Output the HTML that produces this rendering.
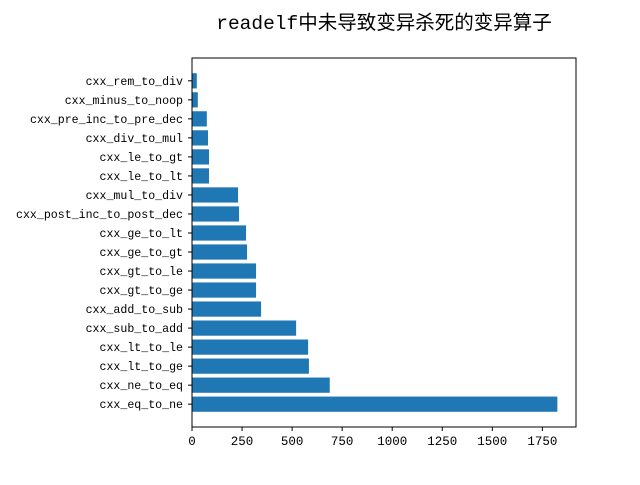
<!DOCTYPE html>
<html><head><meta charset="utf-8">
<style>
body{margin:0;background:#fff;}
svg text{font-family:"Liberation Mono","Noto Sans CJK SC",monospace;}
</style></head>
<body>
<svg id="chart" width="640" height="480" xmlns="http://www.w3.org/2000/svg">
<rect width="640" height="480" fill="#fff"/>
<text x="384" y="29" text-anchor="middle" font-size="19.5" fill="#000">readelf中未导致变异杀死的变异算子</text>
<g id="bars"></g>
<g id="yticks"></g>
<g id="xticks"></g>
<rect x="192" y="58" width="384" height="369" fill="none" stroke="#000" stroke-width="1"/>
</svg>
<script>
const categories = ["cxx_eq_to_ne","cxx_ne_to_eq","cxx_lt_to_ge","cxx_lt_to_le","cxx_sub_to_add","cxx_add_to_sub","cxx_gt_to_ge","cxx_gt_to_le","cxx_ge_to_gt","cxx_ge_to_lt","cxx_post_inc_to_post_dec","cxx_mul_to_div","cxx_le_to_lt","cxx_le_to_gt","cxx_div_to_mul","cxx_pre_inc_to_pre_dec","cxx_minus_to_noop","cxx_rem_to_div"];
const values = [1825,688,584,580,520,345,320,320,275,270,235,230,85,85,80,74,29,24];
const xTicks = [0,250,500,750,1000,1250,1500,1750];
const NS="http://www.w3.org/2000/svg";
const L=192,R=576,T=58,B=427;
const xMax=1918;
const n=categories.length;
const yMin=-1.2,yMax=n-1+1.2;
function x(v){return L+v/xMax*(R-L);}
function y(i){return B-(i-yMin)/(yMax-yMin)*(B-T);}
const unit=(B-T)/(yMax-yMin);
const bars=document.getElementById('bars'),yt=document.getElementById('yticks'),xt=document.getElementById('xticks');
function mk(t,a){const e=document.createElementNS(NS,t);for(const k in a)e.setAttribute(k,a[k]);return e;}
categories.forEach((c,i)=>{
  const r=mk('rect',{x:x(0),y:y(i)-unit*0.4,width:x(values[i])-x(0),height:unit*0.8,fill:'#1f77b4'});
  
  
  bars.appendChild(r);
  const tk=mk('line',{x1:L-4,x2:L,y1:y(i),y2:y(i),stroke:'#000'});
  
  
  yt.appendChild(tk);
  const t=mk('text',{x:L-9,y:y(i)+4,'text-anchor':'end','font-size':'11.6'});
  
  
  t.textContent=c;yt.appendChild(t);
});
xTicks.forEach(v=>{
  const tk=mk('line',{x1:x(v),x2:x(v),y1:B,y2:B+4,stroke:'#000'});
  
  
  xt.appendChild(tk);
  const t=mk('text',{x:x(v),y:B+18,'text-anchor':'middle','font-size':'12.5'});
  
  
  t.textContent=v;xt.appendChild(t);
});
</script>
</body></html>
